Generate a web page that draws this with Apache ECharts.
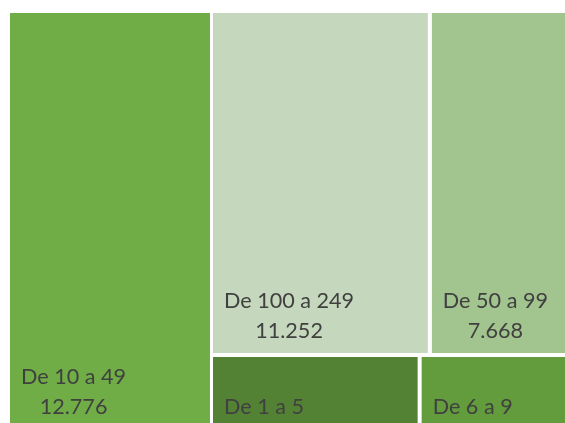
<!DOCTYPE html>
<html>
<head>
<meta charset="utf-8">
<script src="https://cdn.jsdelivr.net/npm/echarts@6/dist/echarts.min.js"></script>
<style>
html,body{margin:0;padding:0;background:#fff;}
#c{width:565px;height:423px;}
</style>
</head>
<body>
<div id="c"></div>
<script>
// Data (the two small cells show no value, estimated from their areas)
const categories = ['De 10 a 49', 'De 100 a 249', 'De 50 a 99', 'De 1 a 5', 'De 6 a 9'];
const values = [12776, 11252, 7668, 2370, 1810];
const showValue = [true, true, true, false, false];
const colors = ['#70AD47', '#C5D8BD', '#A2C48F', '#548235', '#639C3C'];
// grouping of the cells as laid out in the picture
const groups = [[0], [[1, 2], [3, 4]]];

const FONT_FAMILY = 'Lato';
const FONT_SIZE = 21.6;
const LINE_H = 30;
const BOTTOM_GAP = 7;

const ctx = document.createElement('canvas').getContext('2d');
ctx.font = FONT_SIZE + 'px ' + FONT_FAMILY;
function tw(s) { return ctx.measureText(s).width; }

function fmt(v) {
  return String(v).replace(/\B(?=(\d{3})+(?!\d))/g, '.');
}
function leaf(i) {
  const name = categories[i];
  const val = fmt(values[i]);
  const lines = showValue[i] ? 2 : 1;
  const sp = Math.max(0, (tw(name) - tw(val)) / 2);
  return {
    name: name,
    value: values[i],
    itemStyle: { color: colors[i] },
    label: {
      offset: [0, -(lines * LINE_H + BOTTOM_GAP)],
      formatter: showValue[i]
        ? '{n|' + name + '}\n{s| }{n|' + val + '}'
        : '{n|' + name + '}',
      rich: {
        n: { fontFamily: FONT_FAMILY, fontSize: FONT_SIZE, lineHeight: LINE_H, color: '#404040' },
        s: { width: sp, fontSize: FONT_SIZE, lineHeight: LINE_H }
      }
    }
  };
}
const data = [
  leaf(groups[0][0]),
  {
    name: 'g1',
    children: groups[1].map(function (g) {
      return { name: 'g', children: g.map(leaf) };
    })
  }
];

const chart = echarts.init(document.getElementById('c'), null, { renderer: 'canvas' });
chart.setOption({
  animation: false,
  series: [{
    type: 'treemap',
    left: 10,
    top: 13,
    width: 567,
    height: 416,
    sort: false,
    squareRatio: 1,
    roam: false,
    nodeClick: false,
    silent: true,
    breadcrumb: { show: false },
    visibleMin: 0,
    itemStyle: { borderWidth: 0, gapWidth: 4, borderColor: '#fff' },
    levels: [
      { itemStyle: { borderWidth: 0, gapWidth: 3, borderColor: '#fff' } },
      { itemStyle: { borderWidth: 0, gapWidth: 4, borderColor: '#fff' } },
      { itemStyle: { borderWidth: 0, gapWidth: 4, borderColor: '#fff' } },
      { itemStyle: { borderWidth: 0, gapWidth: 0, borderColor: '#fff' } }
    ],
    upperLabel: { show: false },
    label: {
      show: true,
      position: [11, '100%'],
      padding: 0,
      overflow: 'none',
      color: '#404040',
      fontFamily: FONT_FAMILY,
      fontSize: FONT_SIZE
    },
    data: data
  }]
});
</script>
</body>
</html>
